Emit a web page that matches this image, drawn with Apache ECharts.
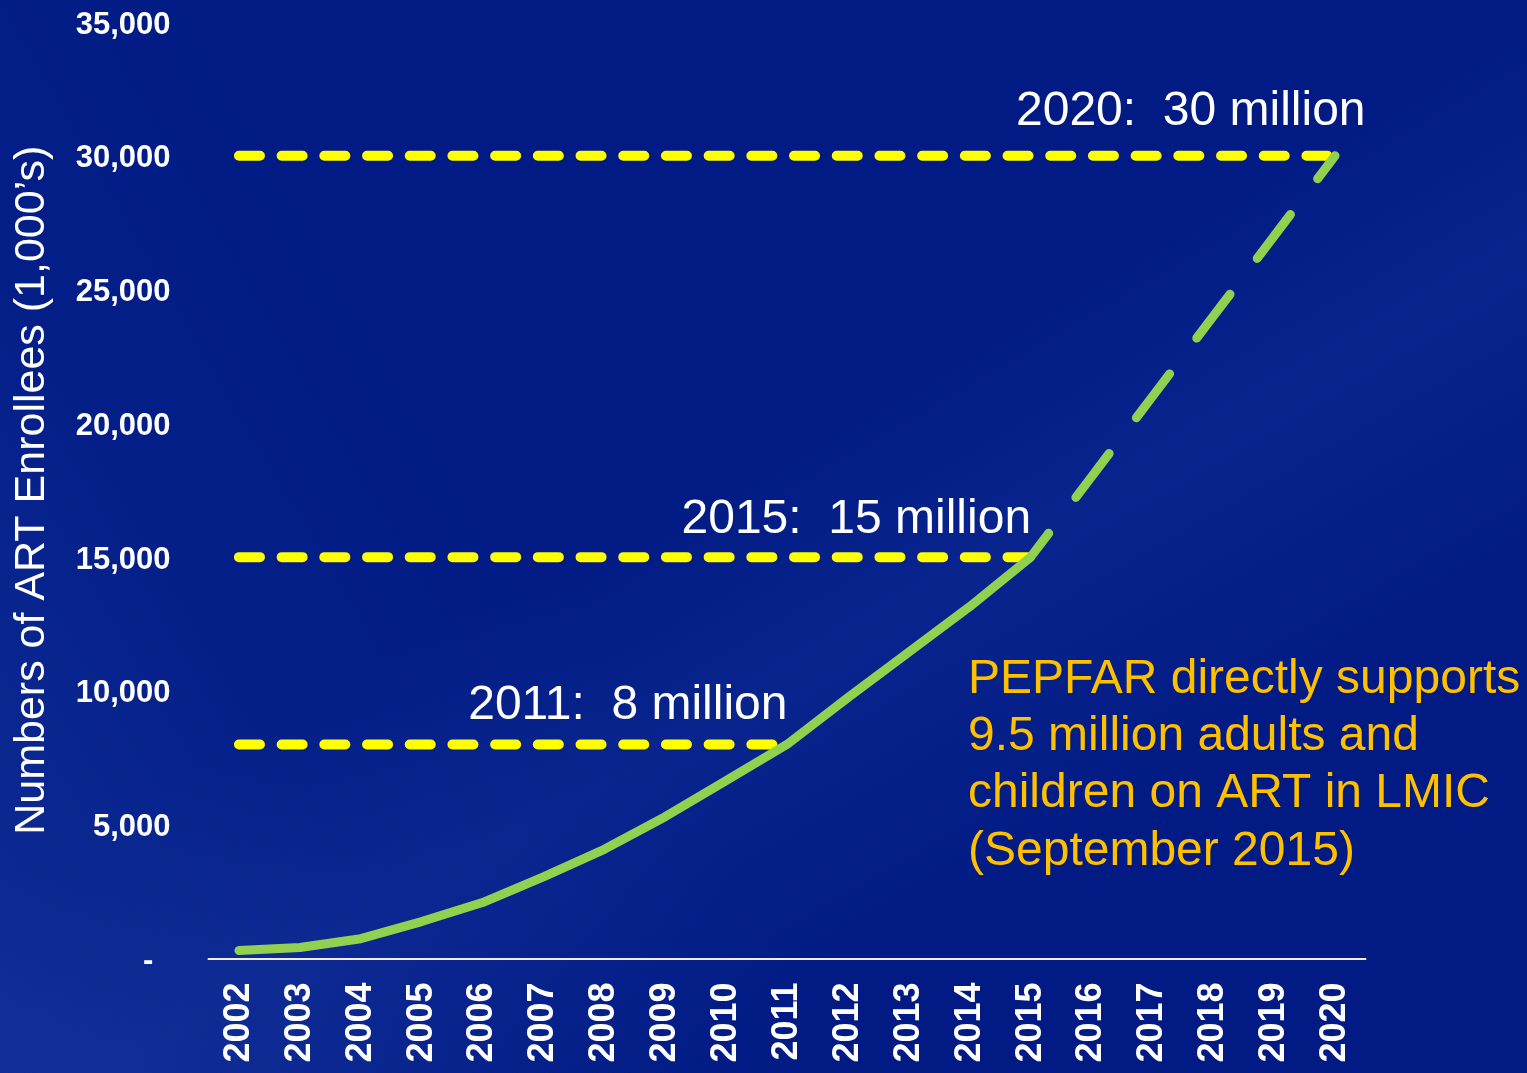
<!DOCTYPE html>
<html>
<head>
<meta charset="utf-8">
<title>ART Enrollees</title>
<script src="https://cdn.jsdelivr.net/npm/echarts@6/dist/echarts.min.js"></script>
<style>
  html, body { margin: 0; padding: 0; width: 1527px; height: 1073px; overflow: hidden; }
  body {
    background:
      linear-gradient(150deg, rgba(0,26,132,0) 0%, rgba(0,26,132,0) 45%, rgba(25,55,160,0.35) 58%, rgba(0,26,132,0) 75%),
      linear-gradient(60deg, rgba(25,60,165,0.55) 0%, rgba(15,45,150,0.25) 22%, rgba(0,26,132,0) 40%),
      #011a84;
  }
  #chart { width: 1527px; height: 1073px; }
</style>
</head>
<body>
<div id="chart"></div>
<script>
// Years on the horizontal axis
const years = ['2002','2003','2004','2005','2006','2007','2008','2009','2010',
               '2011','2012','2013','2014','2015','2016','2017','2018','2019','2020'];

// Reported enrollees (thousands), 2002-2015
const actualValues = [300, 410, 740, 1380, 2090, 3050, 4080, 5300, 6650,
                      8000, 9750, 11450, 13150, 15000];

// Projected path to the 2020 target (thousands), 2015-2020
const projectionYears = ['2015','2016','2017','2018','2019','2020'];
const projectionValues = [15000, 18000, 21000, 24000, 27000, 30000];

// Milestone targets
const milestoneYears = ['2011', '2015', '2020'];
const milestoneValues = [8000, 15000, 30000];
const milestoneLabels = ['2011:  8 million', '2015:  15 million', '2020:  30 million'];

// Y tick labels (every 5,000)
const yTickLabels = ['-  ', '5,000', '10,000', '15,000', '20,000', '25,000', '30,000', '35,000'];

const noteLines = ['PEPFAR directly supports', '9.5 million adults and',
                   'children on ART in LMIC', '(September 2015)'];

const FONT = '"Liberation Sans", Arial, sans-serif';

// Per-milestone label offsets from the end of each dashed line
const labelOffsets = [[1, -38], [1, -37], [31, -44]];

const milestoneSeries = milestoneYears.map(function (yr, i) {
  const endIdx = years.indexOf(yr);
  const data = years.map(function (y, k) {
    if (k > endIdx) return null;
    if (k === endIdx) {
      return {
        value: milestoneValues[i],
        label: {
          show: true,
          formatter: milestoneLabels[i],
          position: labelOffsets[i],
          align: 'right',
          verticalAlign: 'middle',
          color: '#ffffff',
          fontFamily: FONT,
          fontSize: 48
        }
      };
    }
    return milestoneValues[i];
  });
  return {
    type: 'line',
    name: milestoneLabels[i],
    data: data,
    symbol: 'circle',
    symbolSize: 1,
    showSymbol: true,
    itemStyle: { color: 'rgba(0,0,0,0)' },
    label: { show: false },
    silent: true,
    z: 2,
    lineStyle: { color: '#ffff00', width: 10, type: [21, 21.7], cap: 'round' }
  };
});

const projectionData = years.map(function (y) {
  const k = projectionYears.indexOf(y);
  return k >= 0 ? projectionValues[k] : null;
});

const chart = echarts.init(document.getElementById('chart'), null, { renderer: 'canvas' });

chart.setOption({
  backgroundColor: 'transparent',
  animation: false,
  grid: { left: 208.5, right: 161.5, top: 22, bottom: 114.5, containLabel: false },
  xAxis: {
    type: 'category',
    data: years,
    boundaryGap: true,
    axisLine: { show: true, lineStyle: { color: '#f2ecd6', width: 2 } },
    axisTick: { show: false },
    axisLabel: {
      rotate: 90,
      margin: 24,
      color: '#ffffff',
      fontFamily: FONT,
      fontWeight: 'bold',
      fontSize: 36
    },
    splitLine: { show: false }
  },
  yAxis: {
    type: 'value',
    min: 0,
    max: 35000,
    interval: 5000,
    name: "Numbers of ART Enrollees (1,000\u2019s)",
    nameLocation: 'middle',
    nameGap: 155,
    nameRotate: 90,
    nameTextStyle: { color: '#ffffff', fontFamily: FONT, fontSize: 43 },
    axisLine: { show: false },
    axisTick: { show: false },
    splitLine: { show: false },
    axisLabel: {
      margin: 38,
      color: '#ffffff',
      fontFamily: FONT,
      fontWeight: 'bold',
      fontSize: 31,
      formatter: function (v) { return '{t|' + yTickLabels[Math.round(v / 5000)] + '}'; },
      rich: {
        t: {
          color: '#ffffff',
          fontFamily: FONT,
          fontWeight: 'bold',
          fontSize: 31,
          padding: [6, 0, 0, 0]
        }
      }
    }
  },
  graphic: [{
    type: 'text',
    left: 968,
    top: 651,
    silent: true,
    style: {
      text: noteLines.join('\n'),
      fill: '#ffc000',
      font: '48px ' + FONT,
      lineHeight: 57.3
    }
  }],
  series: milestoneSeries.concat([
    {
      type: 'line',
      name: 'Projection',
      data: projectionData,
      symbol: 'none',
      silent: true,
      z: 4,
      lineStyle: { color: '#92d050', width: 9, type: [55, 45], dashOffset: 25, cap: 'round' }
    },
    {
      type: 'line',
      name: 'ART enrollees',
      data: actualValues,
      symbol: 'none',
      silent: true,
      z: 5,
      lineStyle: { color: '#92d050', width: 9, cap: 'round', join: 'round' }
    }
  ])
});
</script>
</body>
</html>
